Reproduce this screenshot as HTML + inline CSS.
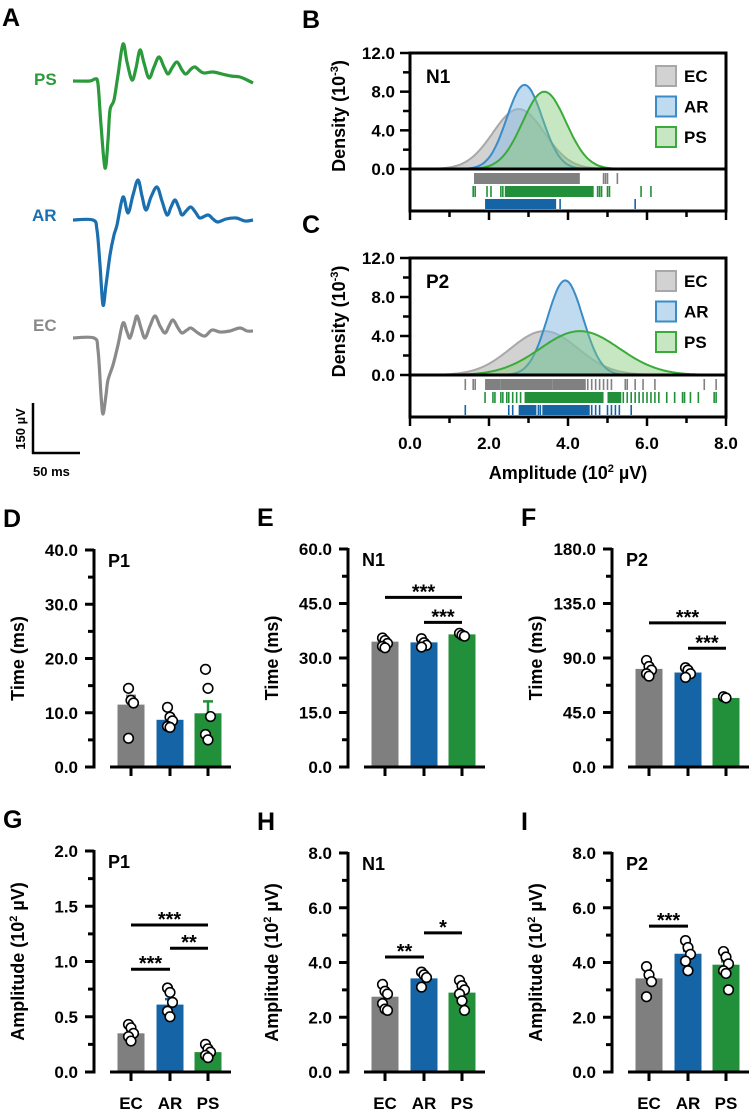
<!DOCTYPE html>
<html><head><meta charset="utf-8">
<style>
html,body{margin:0;padding:0;background:#fff;}
svg{display:block;font-family:"Liberation Sans",Arial,sans-serif;font-weight:bold;}
</style></head>
<body>
<svg id="fig" width="751" height="1110" viewBox="0 0 751 1110" xmlns="http://www.w3.org/2000/svg">
<g id="panelA">
  <text x="2" y="26" font-size="25">A</text>
  <text x="34" y="85" font-size="17" fill="#2a9a3a">PS</text>
  <text x="32" y="221" font-size="17" fill="#1a6fb0">AR</text>
  <text x="33" y="331" font-size="17" fill="#8a8a8a">EC</text>
  <path id="trPS" fill="none" stroke="#2a9a3a" stroke-width="3.2" stroke-linejoin="round" data-pts="73,81 90,81 95,79 98,84 101,125 105,168 108,140 110,110 114,100 118,75 123,44 127,62 132,80 136,68 140,50 144,63 149,78 154,67 159,57 164,67 168,74 172,68 177,62 182,70 186,74 191,69 195,67 200,71 204,73 213,72 222,74 231,76 240,77 247,80 253,83"/>
  <path id="trAR" fill="none" stroke="#1a6fb0" stroke-width="3.2" stroke-linejoin="round" data-pts="73,220 93,220 97,230 100,265 103,305 106,285 110,255 114,235 117,225 123,197 128,213 133,195 138,180 142,196 146,210 151,197 157,187 162,201 167,215 171,207 175,200 179,208 182,215 187,210 191,207 196,213 200,218 208,215 213,219 218,222 226,219 236,218 245,221 253,220"/>
  <path id="trEC" fill="none" stroke="#8a8a8a" stroke-width="3.2" stroke-linejoin="round" data-pts="73,338 94,338 98,350 101,395 103,414 106,395 108,380 113,365 118,345 123,323 127,332 130,338 134,325 137,316 141,328 145,338 150,326 155,316 160,326 165,333 169,326 173,320 178,328 182,333 187,330 191,328 198,333 205,336 212,330 220,332 230,331 240,328 247,331 253,331"/>
  <line x1="33" y1="403" x2="33" y2="454" stroke="#000" stroke-width="2.5"/>
  <line x1="32" y1="453" x2="80" y2="453" stroke="#000" stroke-width="2.5"/>
  <text transform="translate(25,429) rotate(-90)" text-anchor="middle" font-size="13">150 µV</text>
  <text x="33" y="476" font-size="13">50 ms</text>
</g>
<g id="panelBC"></g>
<g id="bars"></g>
</svg>
<script>
// ---------- Density data (B: N1, C: P2) ----------
const groups = ['EC','AR','PS'];
const densXTicks = [0,2,4,6,8];
const densYTicks = [0,4,8,12];
const n1Mean = [2.75, 2.9, 3.4];
const n1Peak = [6.2, 8.7, 8.0];
const n1Sd = [0.65, 0.45, 0.55];
const p2Mean = [3.4, 3.93, 4.3];
const p2Peak = [4.5, 9.7, 4.5];
const p2Sd = [0.85, 0.45, 1.0];
const n1RugSegEC = [[1.62,4.3]];
const n1RugTickEC = [4.9,4.95,5.0,5.25];
const n1RugSegPS = [[2.4,4.65]];
const n1RugTickPS = [1.6,1.65,1.95,2.05,2.3,2.35,4.75,4.8,4.85,5.0,5.05,5.85,6.1];
const n1RugSegAR = [[1.9,3.7]];
const n1RugTickAR = [3.8,5.7];
const p2RugSegEC = [[1.9,2.3],[2.3,3.6],[3.6,4.45]];
const p2RugTickEC = [1.4,1.6,1.65,4.5,4.6,4.7,4.8,4.9,5.0,5.1,5.45,5.5,5.7,5.9,6.2,7.45,7.75];
const p2RugSegPS = [[2.9,4.9],[5.0,5.35]];
const p2RugTickPS = [1.9,2.1,2.15,2.3,2.35,2.45,2.5,2.6,2.7,2.8,5.4,5.5,5.6,5.7,5.8,5.9,6.0,6.1,6.2,6.3,6.5,6.7,6.9,6.95,7.1,7.3,7.7,7.75];
const p2RugSegAR = [[2.75,3.2],[3.35,4.55]];
const p2RugTickAR = [1.4,2.5,2.6,3.25,3.3,4.6,4.7,4.8,5.0,5.1,5.2,5.3,5.6];

// ---------- Bar data ----------
const cats = ['EC','AR','PS'];
const dMeans=[11.5,8.7,9.9], dSem=[1.6,0.7,2.2];
const dPts=[[14.5,12.3,11.8,5.3],[11,9.2,8.5,7.5,7.3],[18,14.5,9.3,6,5]];
const eMeans=[34.5,34.3,36.5], eSem=[0.6,0.5,0.3];
const ePts=[[35.5,34.8,34,33.2,32.8],[35.3,34.2,33.5,33],[36.8,36.3,36]];
const fMeans=[81,78,57], fSem=[2,1.5,0.8];
const fPts=[[88,83,80,77,75],[82,80,77,74],[58,57]];
const gMeans=[0.35,0.61,0.18], gSem=[0.03,0.05,0.02];
const gPts=[[0.43,0.4,0.35,0.32,0.28],[0.76,0.72,0.63,0.55,0.5],[0.25,0.21,0.18,0.15,0.13]];
const hMeans=[2.75,3.42,2.9], hSem=[0.2,0.1,0.15];
const hPts=[[3.2,2.95,2.85,2.5,2.3,2.25],[3.65,3.55,3.45,3.1],[3.35,3.15,3.0,2.85,2.6,2.25]];
const iMeans=[3.42,4.32,3.92], iSem=[0.15,0.1,0.12];
const iPts=[[3.85,3.55,3.3,2.75],[4.8,4.55,4.3,4.05,3.7],[4.4,4.2,3.95,3.7,3.6,3.0]];
const dSig=[];
const eSig=[[0,2,46.7,'***'],[1,2,39.8,'***']];
const fSig=[[0,2,119,'***'],[1,2,98,'***']];
const gSig=[[0,1,0.93,'***'],[1,2,1.12,'**'],[0,2,1.33,'***']];
const hSig=[[0,1,4.2,'**'],[1,2,5.08,'*']];
const iSig=[[0,1,5.33,'***']];
const dTicks=[0,10,20,30,40], eTicks=[0,15,30,45,60], fTicks=[0,45,90,135,180];
const gTicks=[0,0.5,1,1.5,2], hTicks=[0,2,4,6,8], iTicks=[0,2,4,6,8];

const NS='http://www.w3.org/2000/svg';
function mk(parent, tag, attrs, text){
  const e=document.createElementNS(NS,tag);
  for(const k in attrs) e.setAttribute(k,attrs[k]);
  if(text!==undefined) e.textContent=text;
  parent.appendChild(e);
  return e;
}

// smooth traces (Catmull-Rom -> Bezier)
for(const id of ['trPS','trAR','trEC']){
  const el=document.getElementById(id);
  const p=el.getAttribute('data-pts').split(' ').map(s=>s.split(',').map(Number));
  let d='M'+p[0][0]+','+p[0][1];
  for(let i=0;i<p.length-1;i++){
    const p0=p[Math.max(0,i-1)],p1=p[i],p2=p[i+1],p3=p[Math.min(p.length-1,i+2)];
    const c1=[p1[0]+(p2[0]-p0[0])/6,p1[1]+(p2[1]-p0[1])/6];
    const c2=[p2[0]-(p3[0]-p1[0])/6,p2[1]-(p3[1]-p1[1])/6];
    d+=' C'+c1[0].toFixed(1)+','+c1[1].toFixed(1)+' '+c2[0].toFixed(1)+','+c2[1].toFixed(1)+' '+p2[0]+','+p2[1];
  }
  el.setAttribute('d',d);
}

// ---------- Density panels ----------
const bc=document.getElementById('panelBC');
const densFill=['rgba(165,165,165,0.5)','rgba(140,190,225,0.55)','rgba(130,200,120,0.45)'];
const densStroke=['#a8a8a8','#3a8cc8','#3aab3a'];
const rugCol=['#808080','#22903a','#1565a6'];
function densPanel(letter, label, yTop, y0, means, peaks, sds, rugSegs, rugTicks, showX){
  const X=v=>410+v*39.5;
  const Y=d=>y0-(d/12)*(y0-yTop);
  const bottom=y0+42;
  let t=mk(bc,'text',{x:302,y:yTop-25,'font-size':25});
  t.textContent=letter;
  
  
  for(const gi of [0,1,2]){
    let d='M'+X(0)+','+Y(0);
    for(let v=0; v<=8.0001; v+=0.04){
      const dens=peaks[gi]*Math.exp(-0.5*Math.pow((v-means[gi])/sds[gi],2));
      d+=' L'+X(v).toFixed(1)+','+Y(dens).toFixed(1);
    }
    d+=' L'+X(8)+','+Y(0)+' Z';
    const p=mk(bc,'path',{d:d,fill:densFill[gi],stroke:densStroke[gi],'stroke-width':2});
    
    
  }
  const rowIdx=[0,2,1];
  const rows=[[y0+4,y0+15],[y0+17,y0+28],[y0+30,y0+40]];
  for(let r=0;r<3;r++){
    const segs=rugSegs[r], ticks=rugTicks[r];
    for(const s of segs){
      const e=mk(bc,'rect',{x:X(s[0]),y:rows[r][0],width:X(s[1])-X(s[0]),height:rows[r][1]-rows[r][0],fill:rugCol[r]});
      
      
    }
    for(const v of ticks){
      const e=mk(bc,'line',{x1:X(v),x2:X(v),y1:rows[r][0],y2:rows[r][1],stroke:rugCol[r],'stroke-width':1.6});
      
      
    }
  }
  let f=mk(bc,'rect',{x:410,y:yTop,width:316,height:bottom-yTop,fill:'none',stroke:'#000','stroke-width':3});
  
  
  let zl=mk(bc,'line',{x1:410,x2:726,y1:y0,y2:y0,stroke:'#000','stroke-width':3});
  
  
  for(let v=0; v<=12; v+=2){
    const major=(v%4===0);
    const e=mk(bc,'line',{x1:major?400:403,x2:410,y1:Y(v),y2:Y(v),stroke:'#000','stroke-width':2.5});
    
    
  }
  for(const v of densYTicks){
    const e=mk(bc,'text',{x:395,y:Y(v)+6,'text-anchor':'end','font-size':17},v.toFixed(1));
    
    
  }
  for(let v=0; v<=8; v+=1){
    const e=mk(bc,'line',{x1:X(v),x2:X(v),y1:bottom,y2:bottom+(v%2===0?9:6),stroke:'#000','stroke-width':2.5});
    
    
  }
  if(showX){
    for(const v of densXTicks){
      const e=mk(bc,'text',{x:X(v),y:bottom+32,'text-anchor':'middle','font-size':17},v.toFixed(1));
      
      
    }
    const xt=mk(bc,'text',{x:568,y:bottom+62,'text-anchor':'middle','font-size':18});
    xt.innerHTML='Amplitude (10<tspan dy="-7" font-size="11">2</tspan><tspan dy="7"> µV)</tspan>';
    
    
  }
  const yt=mk(bc,'text',{transform:'translate(345,'+((yTop+y0)/2+5)+') rotate(-90)','text-anchor':'middle','font-size':18});
  yt.innerHTML='Density (10<tspan dy="-7" font-size="11">-3</tspan><tspan dy="7">)</tspan>';
  
  
  const pl=mk(bc,'text',{x:426,y:yTop+30,'font-size':19},label);
  
  
  for(let i=0;i<3;i++){
    const cy=yTop+23+i*30.5;
    const r=mk(bc,'rect',{x:656,y:cy-10,width:20,height:20,fill:densFill[i],stroke:densStroke[i],'stroke-width':2});
    
    
    const tx=mk(bc,'text',{x:684,y:cy+6,'font-size':17},groups[i]);
    
    
  }
}
densPanel('B','N1',53,169,n1Mean,n1Peak,n1Sd,[n1RugSegEC,n1RugSegPS,n1RugSegAR],[n1RugTickEC,n1RugTickPS,n1RugTickAR],false);
densPanel('C','P2',258,375,p2Mean,p2Peak,p2Sd,[p2RugSegEC,p2RugSegPS,p2RugSegAR],[p2RugTickEC,p2RugTickPS,p2RugTickAR],true);

// ---------- Bar panels ----------
const bg=document.getElementById('bars');
const barCol=['#7f7f7f','#1565a6','#22903a'];
function barPanel(letter, label, ax, yTop, y0, ticks, means, sem, pts, sig, yTitle, showCats){
  const yMax=ticks[ticks.length-1];
  const Y=v=>y0-(v/yMax)*(y0-yTop);
  const cx=[ax+37,ax+76,ax+114];
  const L=mk(bg,'text',{x:ax-91,y:yTop-23,'font-size':25},letter);
  
  
  for(let i=0;i<3;i++){
    const b=mk(bg,'rect',{x:cx[i]-13.5,y:Y(means[i]),width:27,height:y0-Y(means[i]),fill:barCol[i]});
    
    
    const eb=mk(bg,'path',{d:'M'+cx[i]+','+Y(means[i])+' V'+Y(means[i]+sem[i])+' M'+(cx[i]-5)+','+Y(means[i]+sem[i])+' H'+(cx[i]+5),stroke:barCol[i],'stroke-width':2.5,fill:'none'});
    
    
  }
  for(let i=0;i<3;i++){
    pts[i].forEach((v,j)=>{
      const c=mk(bg,'circle',{cx:cx[i]+((j%3)-1)*2.5,cy:Y(v),r:4.8,fill:'#fff',stroke:'#000','stroke-width':1.6});
      
      
    });
  }
  const ya=mk(bg,'line',{x1:ax,x2:ax,y1:yTop-1,y2:y0+1.5,stroke:'#000','stroke-width':3});
  
  
  const xa=mk(bg,'line',{x1:ax+16,x2:ax+137,y1:y0,y2:y0,stroke:'#000','stroke-width':3});
  
  
  for(let k=0;k<ticks.length;k++){
    const v=ticks[k];
    const t=mk(bg,'line',{x1:ax-9,x2:ax,y1:Y(v),y2:Y(v),stroke:'#000','stroke-width':3});
    
    
    const tl=mk(bg,'text',{x:ax-16,y:Y(v)+6,'text-anchor':'end','font-size':17},v.toFixed(1));
    
    
    if(k<ticks.length-1){
      const mv=(ticks[k]+ticks[k+1])/2;
      const mt=mk(bg,'line',{x1:ax-6,x2:ax,y1:Y(mv),y2:Y(mv),stroke:'#000','stroke-width':3});
      
      
    }
  }
  for(let i=0;i<3;i++){
    const t=mk(bg,'line',{x1:cx[i],x2:cx[i],y1:y0,y2:y0+9,stroke:'#000','stroke-width':3});
    
    
    if(showCats){
      const c=mk(bg,'text',{x:cx[i],y:y0+37,'text-anchor':'middle','font-size':17},cats[i]);
      
      
    }
  }
  const pl=mk(bg,'text',{x:ax+14,y:yTop+17,'font-size':18},label);
  
  
  const yt=mk(bg,'text',{transform:'translate('+(ax-70)+','+((yTop+y0)/2)+') rotate(-90)','text-anchor':'middle','font-size':18});
  yt.innerHTML=yTitle;
  
  
  for(const s of sig){
    const yy=Y(s[2]);
    const ln=mk(bg,'line',{x1:cx[s[0]],x2:cx[s[1]],y1:yy,y2:yy,stroke:'#000','stroke-width':3});
    
    
    const st=mk(bg,'text',{x:(cx[s[0]]+cx[s[1]])/2,y:yy+1,'text-anchor':'middle','font-size':20},s[3]);
    
    
  }
}
const timeT='Time (ms)';
const ampT='Amplitude (10<tspan dy="-7" font-size="11">2</tspan><tspan dy="7"> µV)</tspan>';
barPanel('D','P1',94,550,767,dTicks,dMeans,dSem,dPts,dSig,timeT,false);
barPanel('E','N1',348,549,767,eTicks,eMeans,eSem,ePts,eSig,timeT,false);
barPanel('F','P2',612,549,767,fTicks,fMeans,fSem,fPts,fSig,timeT,false);
barPanel('G','P1',94,851,1072,gTicks,gMeans,gSem,gPts,gSig,ampT,true);
barPanel('H','N1',348,853,1072,hTicks,hMeans,hSem,hPts,hSig,ampT,true);
barPanel('I','P2',612,853,1072,iTicks,iMeans,iSem,iPts,iSig,ampT,true);
</script>
</body></html>
